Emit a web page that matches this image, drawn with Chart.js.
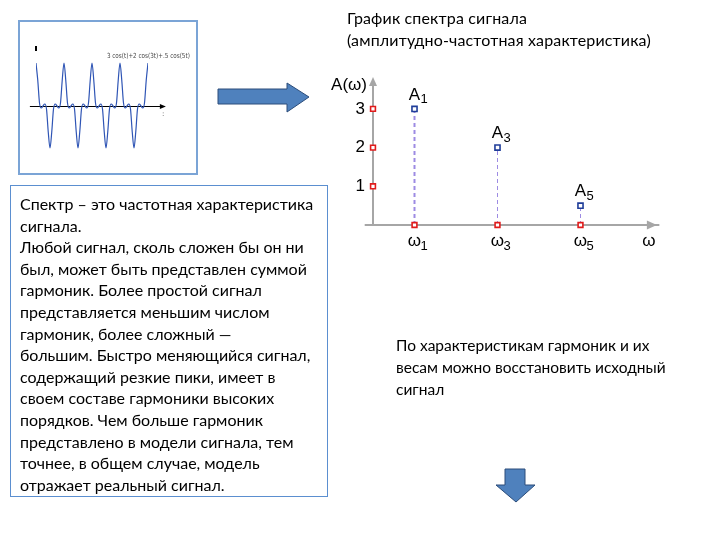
<!DOCTYPE html>
<html lang="ru">
<head>
<meta charset="UTF-8">
<title>График спектра сигнала</title>
<script src="https://cdn.jsdelivr.net/npm/chart.js"></script>
<style>
    body {
        margin: 0;
        width: 720px;
        height: 540px;
        position: relative;
        overflow: hidden;
        background: #fff;
        font-family: Lato, 'Open Sans', sans-serif;
        color: #000;
    }

    .signal-box {
        position: absolute;
        left: 18px;
        top: 20px;
        width: 180px;
        height: 155px;
        box-sizing: border-box;
        border: 2px solid #7ba4d6;
    }

    #signalChart {
        position: absolute;
        left: 18px;
        top: 20px;
    }

    #spectrumChart {
        position: absolute;
        left: 320px;
        top: 60px;
    }

    .title {
        position: absolute;
        left: 347px;
        top: 7px;
        font-size: 16px;
        letter-spacing: 0.15px;
        line-height: 22px;
        white-space: nowrap;
    }

    .info-box {
        position: absolute;
        left: 10px;
        top: 185px;
        width: 318px;
        height: 312px;
        box-sizing: border-box;
        border: 1px solid #5b8fd0;
        padding: 7px 0 0 9px;
        font-size: 16px;
        line-height: 21.6px;
        white-space: nowrap;
    }

    .note {
        position: absolute;
        left: 396px;
        top: 334px;
        font-size: 15.5px;
        line-height: 22px;
        white-space: nowrap;
    }

    svg.arrows {
        position: absolute;
        left: 0;
        top: 0;
    }
</style>
</head>
<body>
    <!-- маленький график сигнала -->
    <div class="signal-box"></div>
    <canvas id="signalChart" width="180" height="155"></canvas>

    <svg class="arrows" width="720" height="540">
        <polygon points="218,89 287,89 287,83 309,97 287,112 287,104 218,104" fill="#4f81bd" stroke="#2c4d7a" stroke-width="1" />
        <polygon points="505,469 525,469 525,485 535,485 516,502 496,485 505,485" fill="#4f81bd" stroke="#2c4d7a" stroke-width="1" />
    </svg>

    <div class="title">График спектра сигнала<br>(амплитудно-частотная характеристика)</div>

    <canvas id="spectrumChart" width="350" height="210"></canvas>

    <div class="info-box">Спектр – это частотная характеристика<br>сигнала.<br>Любой сигнал, сколь сложен бы он ни<br>был, может быть представлен суммой<br>гармоник. Более простой сигнал<br>представляется меньшим числом<br>гармоник, более сложный —<br>большим. Быстро меняющийся сигнал,<br>содержащий резкие пики, имеет в<br>своем составе гармоники высоких<br>порядков. Чем больше гармоник<br>представлено в модели сигнала, тем<br>точнее, в общем случае, модель<br>отражает реальный сигнал.</div>

    <div class="note">По характеристикам гармоник и их<br>весам можно восстановить исходный<br>сигнал</div>

    <script>
        // спектр: номера гармоник и амплитуды
        const harmonicN = [1, 3, 5];
        const amplitudes = [3, 2, 0.5];
        const yTicks = [1, 2, 3];
        const subLabels = ['1', '3', '5'];

        // сигнал (4 периода, 16 отсчётов на период)
        const signalValues = [
            43, 26, 3, -2, 0, 2, -3, -26, -42, -26, -3, 2, 0, -2, 3, 26,
            43, 26, 3, -2, 0, 2, -3, -26, -42, -26, -3, 2, 0, -2, 3, 26,
            43, 26, 3, -2, 0, 2, -3, -26, -42, -26, -3, 2, 0, -2, 3, 26,
            43, 26, 3, -2, 0, 2, -3, -26, -42, -26, -3, 2, 0, -2, 3, 26,
            43
        ];
        const signalFormula = '3 cos(t)+2 cos(3t)+.5 cos(5t)';

        // ---------- маленький график сигнала ----------
        const signalDecor = {
            id: 'signalDecor',
            beforeDatasetsDraw(chart) {
                const { ctx, scales: { x, y } } = chart;
                const y0 = y.getPixelForValue(0);
                const xs = x.getPixelForValue(-3.5);
                const xe = x.getPixelForValue(72.5);
                ctx.save();
                ctx.strokeStyle = '#000';
                ctx.lineWidth = 1;
                ctx.beginPath();
                ctx.moveTo(xs, y0 + 0.5);
                ctx.lineTo(xe, y0 + 0.5);
                ctx.stroke();
                ctx.fillStyle = '#000';
                ctx.beginPath();
                ctx.moveTo(xe + 3, y0 + 0.5);
                ctx.lineTo(xe - 3, y0 - 2);
                ctx.lineTo(xe - 3, y0 + 3);
                ctx.fill();
                // метка оси ординат
                const xa = x.getPixelForValue(0);
                ctx.fillRect(xa - 1, y.getPixelForValue(60), 2, 5);
                ctx.fillStyle = '#444';
                ctx.font = '7px "DejaVu Sans"';
                ctx.textBaseline = 'middle';
                ctx.fillText(signalFormula, x.getPixelForValue(40.5), y.getPixelForValue(50), 83);
                ctx.fillText(':', xe - 1, y0 + 8);
                ctx.restore();
            }
        };

        new Chart(document.getElementById('signalChart'), {
            type: 'line',
            data: {
                labels: signalValues.map((v, i) => i),
                datasets: [{
                    data: signalValues.map((v, i) => ({ x: i, y: v })),
                    borderColor: '#2f55b5',
                    borderWidth: 1.2,
                    pointRadius: 0,
                    cubicInterpolationMode: 'monotone'
                }]
            },
            options: {
                responsive: false,
                animation: false,
                layout: { padding: { left: 18, right: 50, top: 36, bottom: 19 } },
                plugins: { legend: { display: false }, tooltip: { enabled: false } },
                scales: {
                    x: { type: 'linear', min: 0, max: 64, display: false },
                    y: { min: -50, max: 50, display: false }
                }
            },
            plugins: [signalDecor]
        });

        // ---------- спектр ----------
        const axisColor = '#a6a6a6';

        const spectrumDecor = {
            id: 'spectrumDecor',
            beforeDatasetsDraw(chart) {
                const { ctx, scales: { x, y } } = chart;
                const x0 = x.getPixelForValue(0);
                const y0 = y.getPixelForValue(0);
                const xEnd = x.getPixelForValue(6.9);
                const yTop = y.getPixelForValue(3.72);
                ctx.save();
                ctx.strokeStyle = axisColor;
                ctx.lineWidth = 2;
                ctx.beginPath();
                ctx.moveTo(x.getPixelForValue(-0.2), y0);
                ctx.lineTo(xEnd, y0);
                ctx.moveTo(x0, y0);
                ctx.lineTo(x0, yTop);
                ctx.stroke();
                ctx.fillStyle = axisColor;
                // стрелка оси x
                const ax = x.getPixelForValue(6.72);
                ctx.beginPath();
                ctx.moveTo(ax + 5, y0);
                ctx.lineTo(ax - 5, y0 - 4.5);
                ctx.lineTo(ax - 5, y0 + 4.5);
                ctx.fill();
                // стрелка оси y
                ctx.beginPath();
                ctx.moveTo(x0, yTop - 4);
                ctx.lineTo(x0 - 4, yTop + 5);
                ctx.lineTo(x0 + 4, yTop + 5);
                ctx.fill();
                ctx.restore();
            },
            afterDatasetsDraw(chart) {
                const { ctx, scales: { x, y } } = chart;
                const x0 = x.getPixelForValue(0);
                const y0 = y.getPixelForValue(0);
                ctx.save();
                ctx.fillStyle = '#000';
                ctx.textBaseline = 'middle';
                ctx.font = '17px "Liberation Sans"';
                ctx.textAlign = 'right';
                ctx.fillText('A(ω)', x0 - 6, y.getPixelForValue(3.62));
                yTicks.forEach(v => ctx.fillText(String(v), x0 - 8, y.getPixelForValue(v)));

                harmonicN.forEach((n, i) => {
                    const px = x.getPixelForValue(n);
                    const py = y.getPixelForValue(amplitudes[i]);
                    ctx.font = '17px "Liberation Sans"';
                    ctx.textAlign = 'center';
                    ctx.fillText('A', px, py - 14);
                    ctx.fillText('ω', px, y0 + 16);
                    ctx.font = '13px "Liberation Sans"';
                    ctx.textAlign = 'left';
                    ctx.fillText(subLabels[i], px + 6, py - 9);
                    ctx.fillText(subLabels[i], px + 6, y0 + 21);
                });
                ctx.font = '17px "Liberation Sans"';
                ctx.textAlign = 'center';
                ctx.fillText('ω', x.getPixelForValue(6.65), y0 + 16);
                ctx.restore();
            }
        };

        const stemWidths = [2, 1, 1];
        const stemSets = harmonicN.map((n, i) => ({
            type: 'line',
            data: [{ x: n, y: 0 }, { x: n, y: amplitudes[i] }],
            borderColor: '#9d8be3',
            borderWidth: stemWidths[i],
            borderDash: [4, 3],
            pointRadius: 0
        }));

        new Chart(document.getElementById('spectrumChart'), {
            type: 'scatter',
            data: {
                datasets: [
                    {
                        data: harmonicN.map((n, i) => ({ x: n, y: amplitudes[i] })),
                        pointStyle: 'rect',
                        pointRadius: 3.6,
                        backgroundColor: '#fff',
                        borderColor: '#1f3d99',
                        borderWidth: 1.6
                    },
                    {
                        data: yTicks.map(v => ({ x: 0, y: v })).concat(harmonicN.map(n => ({ x: n, y: 0 }))),
                        pointStyle: 'rect',
                        pointRadius: 3.4,
                        backgroundColor: '#fff',
                        borderColor: '#e01b1b',
                        borderWidth: 1.6
                    }
                ].concat(stemSets)
            },
            options: {
                responsive: false,
                animation: false,
                layout: { padding: { left: 11.5, right: 6.5, top: 10.2, bottom: 6.3 } },
                plugins: { legend: { display: false }, tooltip: { enabled: false } },
                scales: {
                    x: { type: 'linear', min: -1, max: 7, display: false },
                    y: { min: -1, max: 4, display: false }
                }
            },
            plugins: [spectrumDecor]
        });
    </script>
</body>
</html>
